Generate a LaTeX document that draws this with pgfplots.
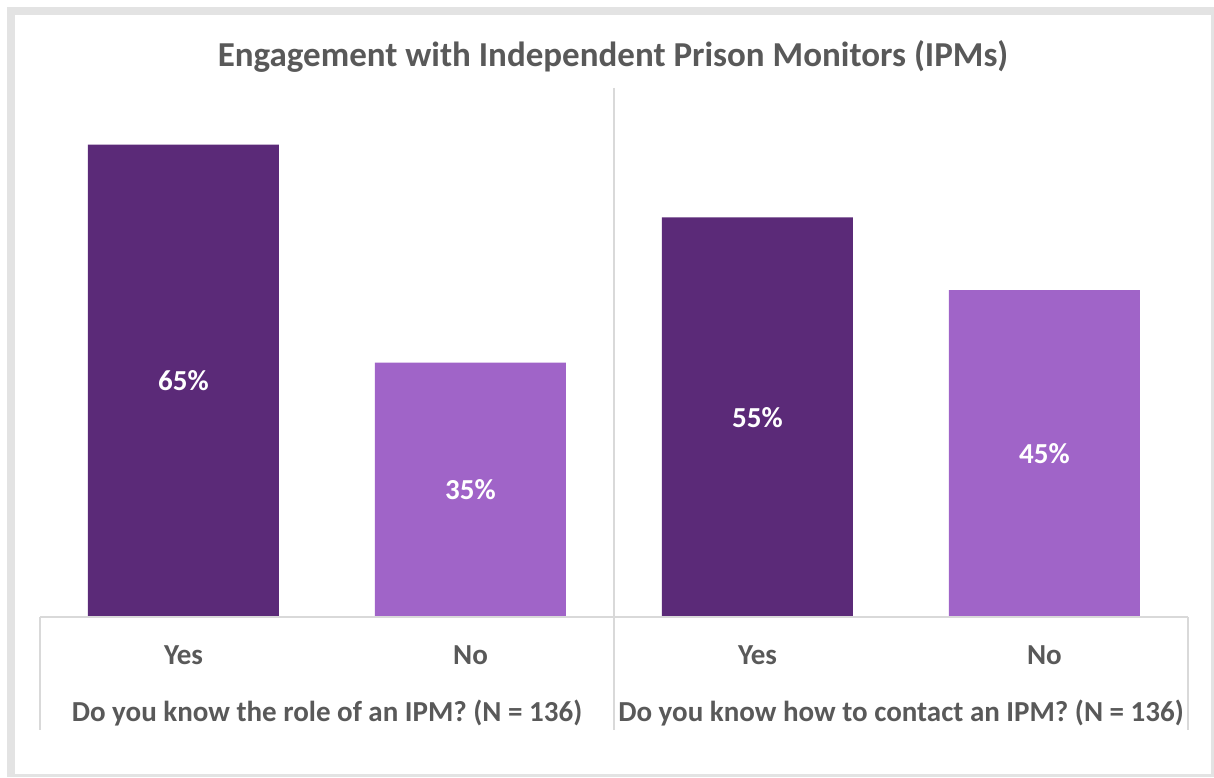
\documentclass[border=0pt]{standalone}
\usepackage{pgfplots}
\pgfplotsset{compat=1.18}
\usepackage{fontspec}
\setmainfont{Carlito}
\definecolor{darkp}{HTML}{5B2A78}
\definecolor{lightp}{HTML}{A064C8}
\definecolor{txt}{HTML}{595959}
\definecolor{grid}{HTML}{D9D9D9}
\definecolor{frame}{HTML}{E3E3E3}
\begin{document}
\begin{tikzpicture}[x=1pt,y=1pt]
\fill[white] (0,0) rectangle (1214,777);
\fill[frame] (7,0) rectangle (1214,770);
\fill[white] (15,3) rectangle (1211,762);
\node[font=\bfseries\fontsize{35}{40}\selectfont, text=txt] at (613,721) {Engagement with Independent Prison Monitors (IPMs)};
\begin{axis}[
  at={(40pt,160pt)}, anchor=south west,
  scale only axis, width=1148pt, height=529pt,
  xmin=-0.5, xmax=3.5, ymin=0, ymax=72.8,
  axis lines=none,
  ybar, bar width=191pt, bar shift=0pt,
  clip=false,
]
\addplot[fill=darkp, draw=none] coordinates {(0,65) (2,55)};
\addplot[fill=lightp, draw=none] coordinates {(1,35) (3,45)};
\addplot[draw=none, mark=none, nodes near coords, point meta=explicit symbolic,
  nodes near coords style={anchor=center, text=white, font=\bfseries\fontsize{29}{34}\selectfont}]
  coordinates {(0,32.5)[65\%] (1,17.5)[35\%] (2,27.5)[55\%] (3,22.5)[45\%]};
\draw[grid, line width=1.5pt] (rel axis cs:0,0) -- (rel axis cs:1,0);
\draw[grid, line width=1.5pt] (rel axis cs:0,0) -- ([yshift=-113pt]rel axis cs:0,0);
\draw[grid, line width=1.5pt] (rel axis cs:1,0) -- ([yshift=-113pt]rel axis cs:1,0);
\draw[grid, line width=1.5pt] (rel axis cs:0.5,1) -- ([yshift=-113pt]rel axis cs:0.5,0);
\foreach \xx/\lab in {0/Yes,1/No,2/Yes,3/No}{
  \edef\tmp{\noexpand\node[font=\noexpand\bfseries\noexpand\fontsize{29}{34}\noexpand\selectfont, text=txt] at (axis cs:\xx,0) [yshift=-38pt] {\lab};}
  \tmp
}
\node[font=\bfseries\fontsize{29}{34}\selectfont, text=txt] at (axis cs:0.5,0) [yshift=-96pt] {Do you know the role of an IPM? (N = 136)};
\node[font=\bfseries\fontsize{29}{34}\selectfont, text=txt] at (axis cs:2.5,0) [yshift=-96pt] {Do you know how to contact an IPM? (N = 136)};
\end{axis}
\end{tikzpicture}
\end{document}
